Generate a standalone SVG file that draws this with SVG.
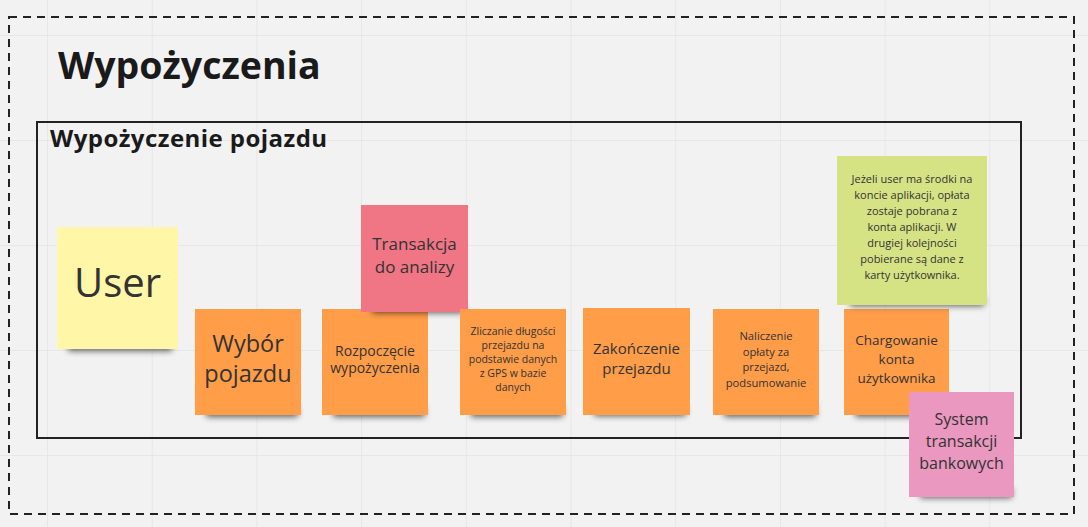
<svg xmlns="http://www.w3.org/2000/svg" width="1088" height="527" viewBox="0 0 1088 527">
<defs>
  <filter id="sh" x="-20%" y="-100%" width="140%" height="300%">
    <feGaussianBlur stdDeviation="3"/>
  </filter>
  <pattern id="grid" x="47" y="35" width="104.7" height="105" patternUnits="userSpaceOnUse">
    <path d="M0 0 V105 M0 0 H104.7" stroke="#e4e4e4" stroke-width="1.5" fill="none"/>
  </pattern>
</defs>
<style>
  .t{font-family:"Open Sans","Noto Sans","Liberation Sans",sans-serif;fill:#333;text-anchor:middle}
  .h{font-family:"Open Sans","Noto Sans","Liberation Sans",sans-serif;fill:#1a1a1a;font-weight:bold}
  .shd{fill:#000;opacity:0.6;filter:url(#sh)}
</style>
<rect width="1088" height="527" fill="#f2f2f2"/>
<rect width="1088" height="527" fill="url(#grid)"/>
<g id="frame-outer">
  <rect x="9" y="17" width="1065" height="497" fill="none" stroke="#222" stroke-width="2" stroke-dasharray="8 6"/>
  <text class="h" x="58" y="79" font-size="37.5">Wypożyczenia</text>
</g>
<g id="frame-inner">
  <rect x="37" y="122" width="984" height="316" fill="none" stroke="#222" stroke-width="2"/>
  <text class="h" x="50" y="147" font-size="24" letter-spacing="0.45">Wypożyczenie pojazdu</text>
</g>
<g id="connectors"></g>
<g id="user">
  <rect class="shd" x="68" y="341" width="104" height="10"/>
  <rect x="57" y="227" width="121" height="122" fill="#fff6a8"/>
  <text class="t" x="117.5" y="297" font-size="40">User</text>
</g>
<g id="wybor">
  <rect class="shd" x="206" y="407" width="92" height="10"/>
  <rect x="195" y="309" width="106" height="106" fill="#ff9d48"/>
  <text class="t" x="248" y="352" font-size="23.5">Wybór</text>
  <text class="t" x="248" y="382" font-size="23.5">pojazdu</text>
</g>
<g id="rozpoczecie">
  <rect class="shd" x="333" y="407" width="92" height="10"/>
  <rect x="322" y="309" width="106" height="106" fill="#ff9d48"/>
  <text class="t" x="375" y="356" font-size="14">Rozpoczęcie</text>
  <text class="t" x="375" y="373" font-size="14">wypożyczenia</text>
</g>
<g id="transakcja">
  <rect class="shd" x="372" y="303" width="92" height="10"/>
  <rect x="361" y="205" width="107" height="107" fill="#f07585"/>
  <text class="t" x="414.5" y="250" font-size="17">Transakcja</text>
  <text class="t" x="414.5" y="273" font-size="17">do analizy</text>
</g>
<g id="zliczanie">
  <rect class="shd" x="471" y="407" width="92" height="10"/>
  <rect x="460" y="309" width="106" height="106" fill="#ff9d48"/>
  <text class="t" x="513" y="335" font-size="10.5">Zliczanie długości</text>
  <text class="t" x="513" y="349" font-size="10.5">przejazdu na</text>
  <text class="t" x="513" y="363" font-size="10.5">podstawie danych</text>
  <text class="t" x="513" y="377" font-size="10.5">z GPS w bazie</text>
  <text class="t" x="513" y="391" font-size="10.5">danych</text>
</g>
<g id="zakonczenie">
  <rect class="shd" x="594" y="406" width="92" height="10"/>
  <rect x="583" y="308" width="107" height="107" fill="#ff9d48"/>
  <text class="t" x="636.5" y="354" font-size="15">Zakończenie</text>
  <text class="t" x="636.5" y="374" font-size="15">przejazdu</text>
</g>
<g id="naliczenie">
  <rect class="shd" x="724" y="407" width="92" height="10"/>
  <rect x="713" y="309" width="106" height="106" fill="#ff9d48"/>
  <text class="t" x="766" y="340" font-size="11.2">Naliczenie</text>
  <text class="t" x="766" y="356" font-size="11.2">opłaty za</text>
  <text class="t" x="766" y="371" font-size="11.2">przejazd,</text>
  <text class="t" x="766" y="387" font-size="11.2">podsumowanie</text>
</g>
<g id="chargowanie">
  <rect class="shd" x="855" y="407" width="92" height="10"/>
  <rect x="844" y="309" width="105" height="106" fill="#ff9d48"/>
  <text class="t" x="896.5" y="345" font-size="13.5">Chargowanie</text>
  <text class="t" x="896.5" y="364" font-size="13.5">konta</text>
  <text class="t" x="896.5" y="383" font-size="13.5">użytkownika</text>
</g>
<g id="warunek">
  <rect class="shd" x="850" y="296" width="134" height="10"/>
  <rect x="837" y="156" width="150" height="149" fill="#d5e385"/>
  <text class="t" x="912" y="183" font-size="11">Jeżeli user ma środki na</text>
  <text class="t" x="912" y="199" font-size="11">koncie aplikacji, opłata</text>
  <text class="t" x="912" y="215" font-size="11">zostaje pobrana z</text>
  <text class="t" x="912" y="231" font-size="11">konta aplikacji. W</text>
  <text class="t" x="912" y="247" font-size="11">drugiej kolejności</text>
  <text class="t" x="912" y="263" font-size="11">pobierane są dane z</text>
  <text class="t" x="912" y="279" font-size="11">karty użytkownika.</text>
</g>
<g id="system">
  <rect class="shd" x="920" y="488" width="92" height="10"/>
  <rect x="909" y="392" width="105" height="105" fill="#ea98c0"/>
  <text class="t" x="961.5" y="425" font-size="16">System</text>
  <text class="t" x="961.5" y="447" font-size="16">transakcji</text>
  <text class="t" x="961.5" y="469" font-size="16">bankowych</text>
</g>
</svg>
